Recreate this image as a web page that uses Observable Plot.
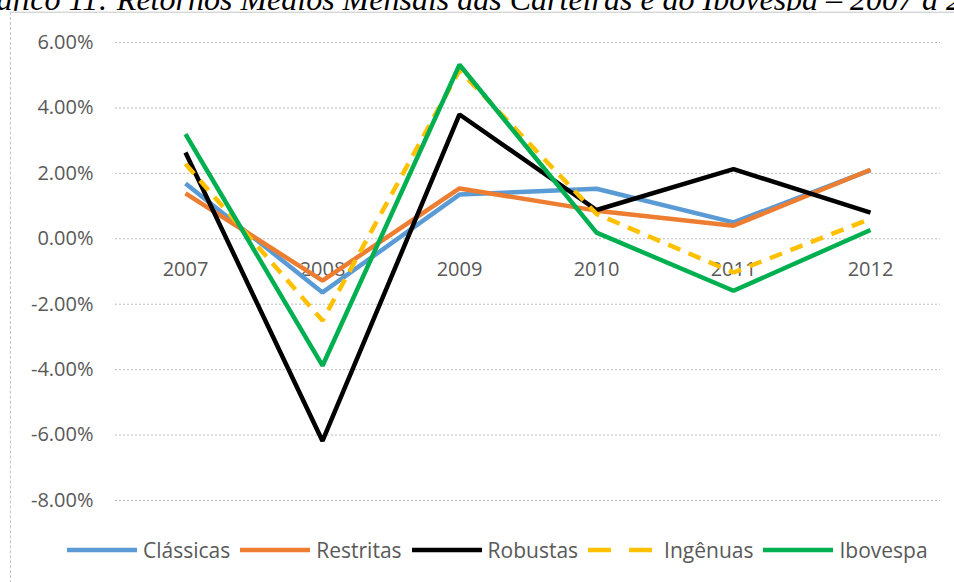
<!DOCTYPE html>
<html>
<head>
<meta charset="utf-8">
<script src="https://cdn.jsdelivr.net/npm/d3@7"></script>
<script src="https://cdn.jsdelivr.net/npm/@observablehq/plot@0.6"></script>
<style>
  html, body { margin: 0; padding: 0; background: #fff; width: 954px; height: 582px; overflow: hidden; position: relative; }
  #title { position: absolute; left: 0; top: 0; width: 954px; height: 12px; overflow: hidden; }
  #title span { position: absolute; left: -39px; top: -17px; white-space: nowrap; font-family: "Liberation Serif", "Times New Roman", serif; font-style: italic; font-size: 32px; line-height: 32px; color: #000; }
  #box { position: absolute; left: 10px; top: 12px; width: 980px; height: 620px; border-left: 1px dashed #C6C6C6; border-top: 1px solid #D6D6D6; box-shadow: 0 -1px 1px #eee; }
  #chart { position: absolute; left: 0; top: 30px; }
  #legend { position: absolute; left: 67px; top: 536px; height: 28px; display: flex; align-items: center; font-family: "Open Sans", sans-serif; font-size: 21px; color: #595959; white-space: nowrap; }
  #legend .item { display: flex; align-items: center; margin-right: 10px; }
  #legend svg { margin-right: 6px; }
</style>
</head>
<body>
<div id="title"><span>Gráfico 11: Retornos Médios Mensais das Carteiras e do Ibovespa – 2007 a 2012</span></div>
<div id="box"></div>
<div id="chart"></div>
<div id="legend"></div>
<script>
const years = ["2007", "2008", "2009", "2010", "2011", "2012"];
const classicas = [1.69, -1.64, 1.35, 1.53, 0.50, 2.10];
const restritas = [1.39, -1.28, 1.54, 0.86, 0.40, 2.11];
const robustas = [2.64, -6.18, 3.80, 0.88, 2.13, 0.80];
const ingenuas = [2.29, -2.50, 5.15, 0.76, -1.03, 0.61];
const ibovespa = [3.20, -3.88, 5.32, 0.19, -1.59, 0.27];
const seriesNames = ["Clássicas", "Restritas", "Robustas", "Ingênuas", "Ibovespa"];
const seriesValues = [classicas, restritas, robustas, ingenuas, ibovespa];
const seriesColors = ["#5B9BD5", "#ED7D31", "#000000", "#FFC000", "#00B050"];
const yTicks = [-8, -6, -4, -2, 0, 2, 4, 6];

const rows = seriesNames.map((name, i) => years.map((year, j) => ({series: name, year, value: seriesValues[i][j]})));

const lineMarks = rows.map((data, i) => Plot.line(data, {
  x: "year", y: "value",
  stroke: seriesColors[i], strokeWidth: 4.5,
  strokeDasharray: seriesNames[i] === "Ingênuas" ? "13,9" : null,
  strokeLinejoin: "miter", strokeLinecap: "butt"
}));

const chart = Plot.plot({
  width: 954, height: 500,
  marginTop: 12, marginBottom: 30, marginLeft: 115, marginRight: 14,
  style: {fontFamily: "Open Sans, sans-serif", fontSize: "20px", color: "#595959", background: "transparent"},
  x: {type: "point", domain: years, padding: 0.5, axis: null},
  y: {domain: [-8, 6], axis: null},
  marks: [
    Plot.gridY(yTicks, {stroke: "#BDBDBD", strokeOpacity: 1, strokeDasharray: "2,2", strokeWidth: 1}),
    Plot.axisY(yTicks, {label: null, tickSize: 0, tickPadding: 22, tickFormat: d => d.toFixed(2) + "%", fontSize: 20, fill: "#595959"}),
    Plot.text(years, {x: d => d, y: () => 0, dy: 31, text: d => d, fontSize: 20, fill: "#595959"}),
    ...lineMarks
  ]
});
document.getElementById("chart").appendChild(chart);

const legend = document.getElementById("legend");
seriesNames.forEach((name, i) => {
  const item = document.createElement("div");
  item.className = "item";
  const dash = name === "Ingênuas" ? 'stroke-dasharray="23,18"' : "";
  item.innerHTML = `<svg width="70" height="8"><line x1="0" y1="4" x2="70" y2="4" stroke="${seriesColors[i]}" stroke-width="4.5" ${dash}/></svg><span>${name}</span>`;
  legend.appendChild(item);
});
</script>
</body>
</html>
